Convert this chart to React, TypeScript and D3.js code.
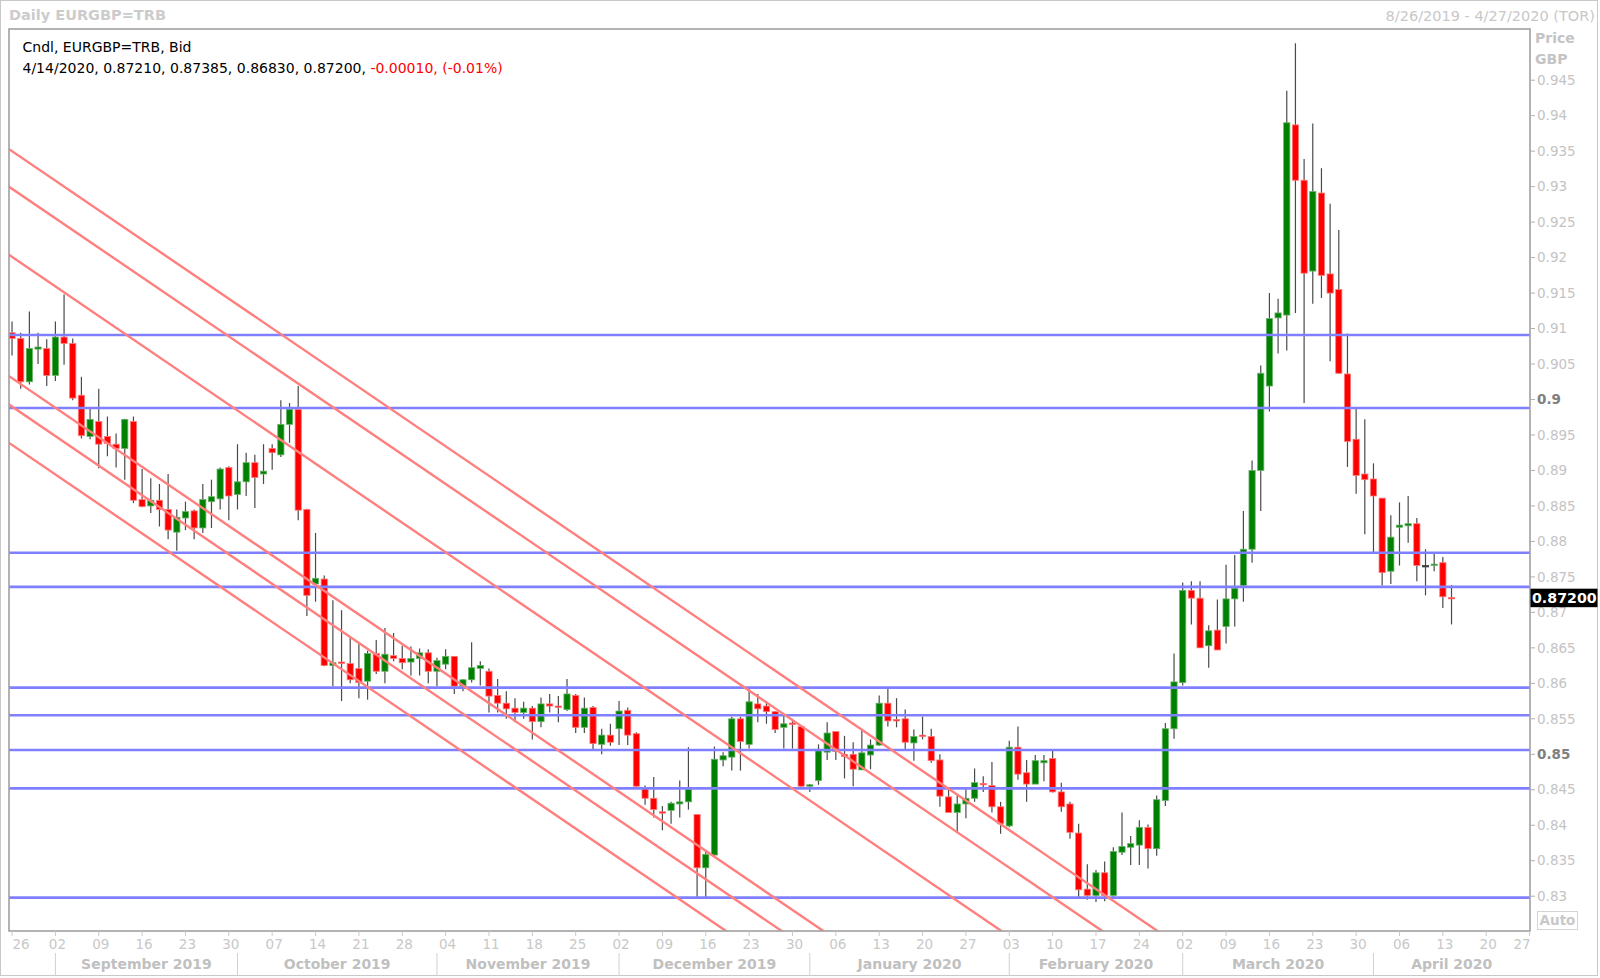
import * as d3 from 'd3';
import { useEffect, useRef } from 'react';

// daily EURGBP candles, 26 Aug 2019 .. 14 Apr 2020 (one per weekday)
const opens = [
  0.9094, 0.9086, 0.9025, 0.9071, 0.9072, 0.9034, 0.9088, 0.9079, 0.9006, 0.8948,
  0.8969, 0.8948, 0.8937, 0.8931, 0.8969, 0.8859, 0.8850, 0.8858, 0.8845, 0.8813,
  0.8833, 0.8843, 0.8819, 0.8856, 0.8860, 0.8904, 0.8866, 0.8884, 0.8911, 0.8895,
  0.8931, 0.8922, 0.8965, 0.8986, 0.8845, 0.8740, 0.8747, 0.8625, 0.8630, 0.8628,
  0.8621, 0.8603, 0.8642, 0.8617, 0.8639, 0.8635, 0.8630, 0.8635, 0.8643, 0.8617,
  0.8627, 0.8638, 0.8596, 0.8605, 0.8621, 0.8617, 0.8583, 0.8572, 0.8565, 0.8559,
  0.8565, 0.8546, 0.8571, 0.8568, 0.8563, 0.8583, 0.8538, 0.8566, 0.8514, 0.8527,
  0.8536, 0.8562, 0.8529, 0.8452, 0.8438, 0.8419, 0.8421, 0.8430, 0.8433, 0.8415,
  0.8340, 0.8358, 0.8492, 0.8496, 0.8550, 0.8514, 0.8571, 0.8568, 0.8560, 0.8538,
  0.8544, 0.8539, 0.8455, 0.8463, 0.8503, 0.8532, 0.8500, 0.8500, 0.8478, 0.8499,
  0.8513, 0.8572, 0.8549, 0.8550, 0.8516, 0.8527, 0.8525, 0.8492, 0.8440, 0.8418,
  0.8430, 0.8438, 0.8459, 0.8456, 0.8426, 0.8399, 0.8510, 0.8474, 0.8458, 0.8488,
  0.8494, 0.8447, 0.8430, 0.8389, 0.8310, 0.8301, 0.8333, 0.8301, 0.8362, 0.8369,
  0.8372, 0.8397, 0.8367, 0.8435, 0.8536, 0.8601, 0.8731, 0.8720, 0.8653, 0.8675,
  0.8680, 0.8719, 0.8738, 0.8789, 0.8900, 0.9019, 0.9115, 0.9119, 0.9387, 0.9309,
  0.9181, 0.9291, 0.9177, 0.9155, 0.9036, 0.8944, 0.8895, 0.8888, 0.8861, 0.8758,
  0.8820, 0.8822, 0.8825, 0.8766, 0.8766, 0.8770, 0.8721,
];
const highs = [
  0.9110, 0.9094, 0.9124, 0.9094, 0.9085, 0.9110, 0.9148, 0.9086, 0.9032, 0.8987,
  0.9015, 0.8976, 0.8952, 0.8973, 0.8976, 0.8902, 0.8889, 0.8881, 0.8895, 0.8845,
  0.8856, 0.8845, 0.8881, 0.8887, 0.8904, 0.8906, 0.8937, 0.8925, 0.8922, 0.8937,
  0.8937, 0.8999, 0.8995, 0.9019, 0.8846, 0.8812, 0.8752, 0.8717, 0.8703, 0.8665,
  0.8656, 0.8646, 0.8661, 0.8678, 0.8671, 0.8653, 0.8652, 0.8649, 0.8648, 0.8636,
  0.8648, 0.8638, 0.8606, 0.8658, 0.8631, 0.8621, 0.8606, 0.8589, 0.8579, 0.8574,
  0.8568, 0.8580, 0.8585, 0.8582, 0.8606, 0.8585, 0.8580, 0.8568, 0.8536, 0.8543,
  0.8575, 0.8566, 0.8531, 0.8456, 0.8468, 0.8427, 0.8433, 0.8463, 0.8510, 0.8415,
  0.8365, 0.8511, 0.8503, 0.8553, 0.8553, 0.8592, 0.8585, 0.8575, 0.8561, 0.8554,
  0.8550, 0.8539, 0.8458, 0.8514, 0.8545, 0.8532, 0.8526, 0.8517, 0.8535, 0.8521,
  0.8583, 0.8593, 0.8579, 0.8563, 0.8535, 0.8553, 0.8536, 0.8500, 0.8452, 0.8442,
  0.8451, 0.8480, 0.8469, 0.8489, 0.8433, 0.8519, 0.8539, 0.8492, 0.8499, 0.8499,
  0.8506, 0.8460, 0.8433, 0.8402, 0.8345, 0.8337, 0.8349, 0.8369, 0.8418, 0.8385,
  0.8407, 0.8401, 0.8442, 0.8544, 0.8642, 0.8742, 0.8744, 0.8744, 0.8682, 0.8718,
  0.8767, 0.8781, 0.8843, 0.8914, 0.9048, 0.9150, 0.9142, 0.9435, 0.9502, 0.9339,
  0.9389, 0.9326, 0.9276, 0.9239, 0.9093, 0.8987, 0.8972, 0.8910, 0.8861, 0.8837,
  0.8855, 0.8864, 0.8833, 0.8789, 0.8783, 0.8778, 0.87385,
];
const lows = [
  0.9062, 0.9015, 0.9021, 0.9050, 0.9019, 0.9026, 0.9049, 0.8999, 0.8945, 0.8944,
  0.8903, 0.8920, 0.8904, 0.8887, 0.8854, 0.8848, 0.8840, 0.8821, 0.8803, 0.8787,
  0.8816, 0.8803, 0.8812, 0.8819, 0.8845, 0.8830, 0.8845, 0.8864, 0.8847, 0.8881,
  0.8901, 0.8919, 0.8939, 0.8830, 0.8695, 0.8715, 0.8624, 0.8596, 0.8575, 0.8600,
  0.8579, 0.8577, 0.8613, 0.8600, 0.8631, 0.8620, 0.8611, 0.8611, 0.8600, 0.8596,
  0.8620, 0.8585, 0.8589, 0.8601, 0.8597, 0.8559, 0.8559, 0.8550, 0.8545, 0.8550,
  0.8521, 0.8538, 0.8559, 0.8545, 0.8561, 0.8530, 0.8530, 0.8506, 0.8500, 0.8512,
  0.8513, 0.8513, 0.8454, 0.8429, 0.8411, 0.8393, 0.8402, 0.8411, 0.8422, 0.8299,
  0.8299, 0.8355, 0.8483, 0.8477, 0.8477, 0.8508, 0.8545, 0.8543, 0.8530, 0.8508,
  0.8508, 0.8454, 0.8447, 0.8457, 0.8492, 0.8492, 0.8466, 0.8455, 0.8478, 0.8479,
  0.8512, 0.8539, 0.8538, 0.8507, 0.8491, 0.8521, 0.8488, 0.8426, 0.8418, 0.8389,
  0.8410, 0.8433, 0.8447, 0.8418, 0.8388, 0.8397, 0.8464, 0.8433, 0.8458, 0.8462,
  0.8446, 0.8419, 0.8381, 0.8299, 0.8295, 0.8292, 0.8293, 0.8299, 0.8358, 0.8344,
  0.8344, 0.8339, 0.8357, 0.8427, 0.8522, 0.8597, 0.8683, 0.8650, 0.8622, 0.8647,
  0.8656, 0.8680, 0.8715, 0.8770, 0.8843, 0.8983, 0.9065, 0.9069, 0.9122, 0.8995,
  0.9135, 0.9143, 0.9054, 0.9036, 0.8905, 0.8867, 0.8810, 0.8785, 0.8738, 0.8740,
  0.8766, 0.8798, 0.8744, 0.8724, 0.8758, 0.8706, 0.8683,
];
const closes = [
  0.9086, 0.9025, 0.9072, 0.9074, 0.9034, 0.9088, 0.9079, 0.9002, 0.8949, 0.8972,
  0.8937, 0.8938, 0.8931, 0.8972, 0.8858, 0.8849, 0.8858, 0.8845, 0.8816, 0.8834,
  0.8842, 0.8819, 0.8859, 0.8863, 0.8902, 0.8864, 0.8884, 0.8911, 0.8890, 0.8899,
  0.8925, 0.8965, 0.8986, 0.8844, 0.8724, 0.8748, 0.8625, 0.8629, 0.8628, 0.8605,
  0.8601, 0.8642, 0.8617, 0.8641, 0.8635, 0.8629, 0.8635, 0.8643, 0.8617, 0.8632,
  0.8638, 0.8596, 0.8605, 0.8622, 0.8625, 0.8582, 0.8572, 0.8564, 0.8559, 0.8565,
  0.8546, 0.8571, 0.8568, 0.8566, 0.8585, 0.8538, 0.8565, 0.8515, 0.8527, 0.8517,
  0.8561, 0.8527, 0.8455, 0.8438, 0.8422, 0.8417, 0.8431, 0.8433, 0.8451, 0.8340,
  0.8359, 0.8493, 0.8498, 0.8550, 0.8518, 0.8574, 0.8564, 0.8560, 0.8535, 0.8543,
  0.8543, 0.8455, 0.8457, 0.8505, 0.8530, 0.8504, 0.8497, 0.8479, 0.8502, 0.8513,
  0.8572, 0.8547, 0.8547, 0.8517, 0.8525, 0.8526, 0.8491, 0.8441, 0.8418, 0.8430,
  0.8438, 0.8460, 0.8457, 0.8426, 0.8402, 0.8510, 0.8472, 0.8458, 0.8491, 0.8491,
  0.8447, 0.8426, 0.8390, 0.8309, 0.8301, 0.8333, 0.8301, 0.8363, 0.8370, 0.8374,
  0.8397, 0.8367, 0.8436, 0.8536, 0.8602, 0.8731, 0.8720, 0.8650, 0.8674, 0.8647,
  0.8719, 0.8734, 0.8789, 0.8900, 0.9037, 0.9114, 0.9122, 0.9390, 0.9309, 0.9178,
  0.9293, 0.9175, 0.9150, 0.9037, 0.8941, 0.8893, 0.8887, 0.8864, 0.8756, 0.8806,
  0.8823, 0.8825, 0.8766, 0.8766, 0.8768, 0.8722, 0.8720,
];

// horizontal support / resistance levels (blue)
const levels = [0.9091, 0.8988, 0.8784, 0.8736, 0.8594, 0.8555, 0.8506, 0.8452, 0.8298];

// falling channel lines (red): price at bar 0 and at bar 150
const channelFrom = [0.9350, 0.9297, 0.9201, 0.9030, 0.8990, 0.8936];
const channelTo = [0.8102, 0.8049, 0.7952, 0.7781, 0.7741, 0.7688];

const priceTicks = d3.range(0.83, 0.9451, 0.005);

const W = 1600;
const H = 978;
const plot = { left: 9, top: 29, right: 1530, bottom: 931 };
const font = "'DejaVu Sans', sans-serif";

const App = () => {
    const ref = useRef<SVGSVGElement | null>(null);

    useEffect(() => {
        if (!ref.current) return;
        const svg = d3.select(ref.current);
        svg.selectAll('*').remove();

        // weekday calendar from the first bar to the right edge
        const days: Date[] = [];
        for (const d = new Date(2019, 7, 26); days.length < 176; d.setDate(d.getDate() + 1)) {
            if (d.getDay() !== 0 && d.getDay() !== 6) days.push(new Date(d));
        }

        const x = d3.scaleLinear().domain([-0.35, 175.05]).range([plot.left, plot.right]);
        const y = d3.scaleLinear().domain([0.83, 0.9]).range([896.2, 399.5]);

        svg.append('rect').attr('width', W).attr('height', H).attr('fill', '#fff');
        svg.append('rect')
            .attr('x', 0.5).attr('y', 0.5).attr('width', 1597).attr('height', 975)
            .attr('fill', 'none').attr('stroke', '#c8c8c8');

        svg.append('defs').append('clipPath').attr('id', 'clip')
            .append('rect')
            .attr('x', plot.left).attr('y', plot.top)
            .attr('width', plot.right - plot.left).attr('height', plot.bottom - plot.top);

        const g = svg.append('g').attr('clip-path', 'url(#clip)');

        const bars = opens.map((o, i) => ({ i, o, h: highs[i], l: lows[i], c: closes[i] }));

        g.selectAll('.wick')
            .data(bars)
            .enter().append('line')
            .attr('x1', d => x(d.i)).attr('x2', d => x(d.i))
            .attr('y1', d => y(d.h)).attr('y2', d => y(d.l))
            .attr('stroke', '#4a4a4a').attr('stroke-width', 1.2);

        const bw = 6.2;
        g.selectAll('.body')
            .data(bars)
            .enter().append('rect')
            .attr('x', d => x(d.i) - bw / 2)
            .attr('width', bw)
            .attr('y', d => y(Math.max(d.o, d.c)))
            .attr('height', d => Math.max(1.4, Math.abs(y(d.o) - y(d.c))))
            .attr('fill', d => d.c > d.o ? '#008000' : d.c < d.o ? '#ff0000' : '#404040')
            .attr('stroke', d => d.c > d.o ? '#66b366' : d.c < d.o ? '#ff7a7a' : '#404040')
            .attr('stroke-width', 0.8);

        g.selectAll('.level')
            .data(levels)
            .enter().append('line')
            .attr('x1', plot.left).attr('x2', plot.right)
            .attr('y1', d => y(d)).attr('y2', d => y(d))
            .attr('stroke', '#8080ff').attr('stroke-width', 2.6);

        // channel lines, drawn from just left of the first bar to bar 150
        g.selectAll('.channel')
            .data(channelFrom)
            .enter().append('line')
            .attr('x1', x(-2)).attr('y1', (d, k) => y(d + (d - channelTo[k]) * 2 / 150))
            .attr('x2', x(150)).attr('y2', (_d, k) => y(channelTo[k]))
            .attr('stroke', '#ff7f7f').attr('stroke-width', 2.4);

        // frame
        svg.append('rect')
            .attr('x', plot.left).attr('y', plot.top)
            .attr('width', plot.right - plot.left).attr('height', plot.bottom - plot.top)
            .attr('fill', 'none').attr('stroke', '#a0a0a0').attr('stroke-width', 1.6);

        // price axis
        const fmt = (v: number) => String(+v.toFixed(3));
        const major = (v: number) => Math.abs(v * 20 - Math.round(v * 20)) < 1e-6;
        const pa = svg.append('g');
        pa.selectAll('line')
            .data(priceTicks)
            .enter().append('line')
            .attr('x1', plot.right).attr('x2', plot.right + 5)
            .attr('y1', d => y(d)).attr('y2', d => y(d))
            .attr('stroke', '#b0b0b0');
        pa.selectAll('text')
            .data(priceTicks)
            .enter().append('text')
            .attr('x', plot.right + 7).attr('y', d => y(d))
            .attr('dy', '0.35em')
            .attr('font-family', font).attr('font-size', 13.5)
            .attr('font-weight', d => major(d) ? 'bold' : 'normal')
            .attr('fill', d => major(d) ? '#808080' : '#c4c4c4')
            .text(d => fmt(d));
        pa.append('text').attr('x', 1535).attr('y', 43.3).attr('font-family', font)
            .attr('font-size', 14).attr('font-weight', 'bold').attr('fill', '#c4c4c4').text('Price');
        pa.append('text').attr('x', 1535).attr('y', 64.3).attr('font-family', font)
            .attr('font-size', 14).attr('font-weight', 'bold').attr('fill', '#c4c4c4').text('GBP');

        const last = closes[closes.length - 1];
        pa.append('rect').attr('x', plot.right + 0.5).attr('y', y(last) - 9.5)
            .attr('width', 67).attr('height', 18.5).attr('fill', '#000');
        pa.append('text').attr('x', plot.right + 2).attr('y', y(last))
            .attr('dy', '0.36em')
            .attr('font-family', font).attr('font-size', 14.2).attr('font-weight', 'bold')
            .attr('fill', '#fff').text(last.toFixed(5));

        pa.append('rect').attr('x', 1537.5).attr('y', 911.5).attr('width', 40).attr('height', 18)
            .attr('fill', '#fff').attr('stroke', '#d4d4d4');
        pa.append('text').attr('x', 1557.5).attr('y', 920.5).attr('dy', '0.36em')
            .attr('text-anchor', 'middle').attr('font-family', font).attr('font-size', 13.5)
            .attr('font-weight', 'bold').attr('fill', '#c8c8c8').text('Auto');

        // date axis
        const da = svg.append('g');
        const mondays = days.map((d, i) => ({ d, i })).filter(e => e.d.getDay() === 1);
        da.selectAll('line')
            .data(mondays)
            .enter().append('line')
            .attr('x1', e => x(e.i)).attr('x2', e => x(e.i))
            .attr('y1', plot.bottom).attr('y2', plot.bottom + 5)
            .attr('stroke', '#c8c8c8');
        da.selectAll('text')
            .data(mondays)
            .enter().append('text')
            .attr('x', e => Math.min(Math.max(x(e.i) + 2, plot.left + 12), plot.right - 8))
            .attr('y', 944).attr('dy', '0.35em').attr('text-anchor', 'middle')
            .attr('font-family', font).attr('font-size', 13.5).attr('fill', '#c8c8c8')
            .text(e => d3.timeFormat('%d')(e.d));

        const months = d3.groups(days.map((d, i) => ({ d, i })), e => d3.timeFormat('%Y-%m')(e.d))
            .map(([, v]) => ({ first: v[0].i, date: v[0].d }));
        const bounds = months.map((m, k) => ({
            ...m,
            a: k === 0 ? plot.left : x(m.first),
            b: k < months.length - 1 ? x(months[k + 1].first) : plot.right,
        }));
        da.selectAll('.sep')
            .data(bounds.slice(1))
            .enter().append('line')
            .attr('x1', m => m.a).attr('x2', m => m.a)
            .attr('y1', 953).attr('y2', 976)
            .attr('stroke', '#d0d0d0');
        da.selectAll('.month')
            .data(bounds.filter(m => m.b - m.a > 80))
            .enter().append('text')
            .attr('x', m => (m.a + m.b) / 2).attr('y', 964).attr('dy', '0.35em')
            .attr('text-anchor', 'middle').attr('font-family', font).attr('font-size', 14)
            .attr('font-weight', 'bold').attr('fill', '#c0c0c0')
            .text(m => d3.timeFormat('%B %Y')(m.date));

        // header
        svg.append('text').attr('x', 9).attr('y', 19.5).attr('font-family', font)
            .attr('font-size', 14.5).attr('font-weight', 'bold').attr('fill', '#cccccc')
            .text('Daily EURGBP=TRB');
        svg.append('text').attr('x', 1595).attr('y', 20.5).attr('text-anchor', 'end')
            .attr('font-family', font).attr('font-size', 14.5).attr('fill', '#c8c8c8')
            .text('8/26/2019 - 4/27/2020 (TOR)');

        svg.append('text').attr('x', 22.5).attr('y', 51.5).attr('font-family', font)
            .attr('font-size', 14).attr('fill', '#000').text('Cndl, EURGBP=TRB, Bid');
        const info = svg.append('text').attr('x', 22.5).attr('y', 73)
            .attr('font-family', font).attr('font-size', 14);
        info.append('tspan').attr('fill', '#000')
            .text(`4/14/2020, ${opens[166].toFixed(5)}, ${highs[166].toFixed(5)}, ${lows[166].toFixed(5)}, ${closes[166].toFixed(5)}, `);
        info.append('tspan').attr('fill', '#ff0000').text('-0.00010, (-0.01%)');
    }, []);

    return (
        <div>
            <svg ref={ref} width={W} height={H} style={{ position: 'absolute', left: 0, top: 0 }} />
        </div>
    );
};

export default App;
